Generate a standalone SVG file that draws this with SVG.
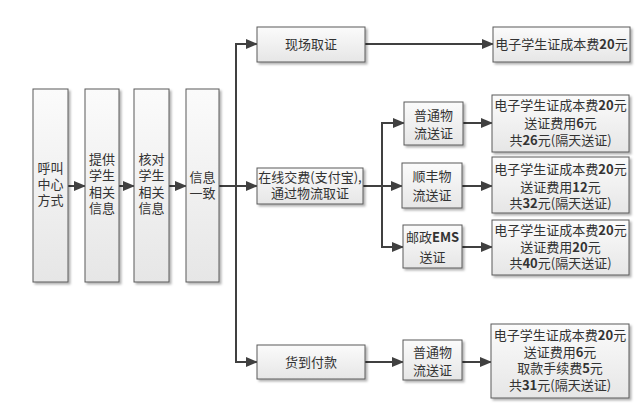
<svg xmlns="http://www.w3.org/2000/svg" width="641" height="411" viewBox="0 0 641 411">
<defs>
<linearGradient id="g" x1="0" y1="0" x2="0" y2="1">
<stop offset="0" stop-color="#fbfbfb"/>
<stop offset="1" stop-color="#e6e6e6"/>
</linearGradient>
<filter id="sh" x="-20%" y="-20%" width="140%" height="140%">
<feDropShadow dx="2" dy="2" stdDeviation="1.2" flood-color="#000" flood-opacity="0.3"/>
</filter>
<marker id="ar" markerUnits="userSpaceOnUse" markerWidth="12" markerHeight="10" refX="11" refY="5" orient="auto">
<path d="M0,0 L12,5 L0,10 Z" fill="#404040"/>
</marker>
</defs>
<style>
.b{fill:url(#g);stroke:#5a5a5a;stroke-width:1;filter:url(#sh)}
.t{font-family:"Noto Sans CJK SC","Noto Sans",sans-serif;font-size:13px;fill:#333;text-anchor:middle}
.n{font-weight:bold}
.c{fill:none;stroke:#404040;stroke-width:2}
.a{marker-end:url(#ar)}
</style>
<rect width="641" height="411" fill="#fff"/>
<g id="connectors">
<line class="c a" x1="68" y1="186" x2="85" y2="186"/>
<line class="c a" x1="119" y1="186" x2="134" y2="186"/>
<line class="c a" x1="169" y1="186" x2="186" y2="186"/>
<line class="c" x1="219" y1="186" x2="236" y2="186"/>
<polyline class="c" points="257,44 236,44 236,362 257,362"/>
<line class="c a" x1="235" y1="44" x2="257" y2="44"/>
<line class="c a" x1="236" y1="186" x2="257" y2="186"/>
<line class="c a" x1="235" y1="362" x2="257" y2="362"/>
<line class="c a" x1="365" y1="44" x2="493" y2="44"/>
<line class="c" x1="363" y1="186" x2="382" y2="186"/>
<line class="c" x1="382" y1="123" x2="382" y2="247"/>
<line class="c a" x1="381" y1="123" x2="404" y2="123"/>
<line class="c a" x1="382" y1="186" x2="402" y2="186"/>
<line class="c a" x1="381" y1="247" x2="403" y2="247"/>
<line class="c a" x1="463" y1="123" x2="492" y2="123"/>
<line class="c a" x1="462" y1="186" x2="492" y2="186"/>
<line class="c a" x1="462" y1="247" x2="492" y2="247"/>
<line class="c a" x1="365" y1="362" x2="403" y2="362"/>
<line class="c a" x1="462" y1="362" x2="491" y2="362"/>
</g>
<g id="n1"><rect class="b" x="33" y="89" width="35" height="193"/>
<text class="t"><tspan x="50.5" y="173">呼叫</tspan><tspan x="50.5" y="189">中心</tspan><tspan x="50.5" y="205">方式</tspan></text></g>
<g id="n2"><rect class="b" x="85" y="89" width="34" height="193"/>
<text class="t"><tspan x="102" y="164">提供</tspan><tspan x="102" y="180">学生</tspan><tspan x="102" y="197">相关</tspan><tspan x="102" y="213">信息</tspan></text></g>
<g id="n3"><rect class="b" x="134" y="89" width="35" height="193"/>
<text class="t"><tspan x="151.5" y="164">核对</tspan><tspan x="151.5" y="180">学生</tspan><tspan x="151.5" y="197">相关</tspan><tspan x="151.5" y="213">信息</tspan></text></g>
<g id="n4"><rect class="b" x="186" y="89" width="33" height="193"/>
<text class="t"><tspan x="202.5" y="182">信息</tspan><tspan x="202.5" y="198">一致</tspan></text></g>
<g id="onsite"><rect class="b" x="257" y="27" width="108" height="35"/>
<text class="t" x="311" y="49">现场取证</text></g>
<g id="online"><rect class="b" x="257" y="168" width="106" height="36"/>
<text class="t"><tspan x="310" y="182">在线交费(支付宝),</tspan><tspan x="310" y="198">通过物流取证</tspan></text></g>
<g id="cod"><rect class="b" x="257" y="345" width="108" height="34"/>
<text class="t" x="311" y="367">货到付款</text></g>
<g id="normal1"><rect class="b" x="404" y="102" width="59" height="43"/>
<text class="t"><tspan x="433.5" y="120">普通物</tspan><tspan x="433.5" y="138">流送证</tspan></text></g>
<g id="sf"><rect class="b" x="402" y="163" width="60" height="45"/>
<text class="t"><tspan x="432" y="181">顺丰物</tspan><tspan x="432" y="200">流送证</tspan></text></g>
<g id="ems"><rect class="b" x="403" y="225" width="59" height="43"/>
<text class="t"><tspan x="432.5" y="242">邮政<tspan class="n">EMS</tspan></tspan><tspan x="432.5" y="262">送证</tspan></text></g>
<g id="normal2"><rect class="b" x="403" y="340" width="59" height="40"/>
<text class="t"><tspan x="432.5" y="357">普通物</tspan><tspan x="432.5" y="375">流送证</tspan></text></g>
<g id="r1"><rect class="b" x="493" y="27" width="137" height="35"/>
<text class="t" x="561.5" y="49">电子学生证成本费<tspan class="n">20</tspan>元</text></g>
<g id="r2"><rect class="b" x="492" y="95" width="137" height="57"/>
<text class="t"><tspan x="560.5" y="110">电子学生证成本费<tspan class="n">20</tspan>元</tspan><tspan x="560.5" y="128">送证费用<tspan class="n">6</tspan>元</tspan><tspan x="560.5" y="145">共<tspan class="n">26</tspan>元(隔天送证)</tspan></text></g>
<g id="r3"><rect class="b" x="492" y="157" width="137" height="56"/>
<text class="t"><tspan x="560.5" y="174">电子学生证成本费<tspan class="n">20</tspan>元</tspan><tspan x="560.5" y="192">送证费用<tspan class="n">12</tspan>元</tspan><tspan x="560.5" y="208">共<tspan class="n">32</tspan>元(隔天送证)</tspan></text></g>
<g id="r4"><rect class="b" x="492" y="220" width="137" height="55"/>
<text class="t"><tspan x="560.5" y="235">电子学生证成本费<tspan class="n">20</tspan>元</tspan><tspan x="560.5" y="252">送证费用<tspan class="n">20</tspan>元</tspan><tspan x="560.5" y="268">共<tspan class="n">40</tspan>元(隔天送证)</tspan></text></g>
<g id="r5"><rect class="b" x="491" y="324" width="138" height="74"/>
<text class="t"><tspan x="560" y="340">电子学生证成本费<tspan class="n">20</tspan>元</tspan><tspan x="560" y="357">送证费用<tspan class="n">6</tspan>元</tspan><tspan x="560" y="373">取款手续费<tspan class="n">5</tspan>元</tspan><tspan x="560" y="390">共<tspan class="n">31</tspan>元(隔天送证)</tspan></text></g>
</svg>
